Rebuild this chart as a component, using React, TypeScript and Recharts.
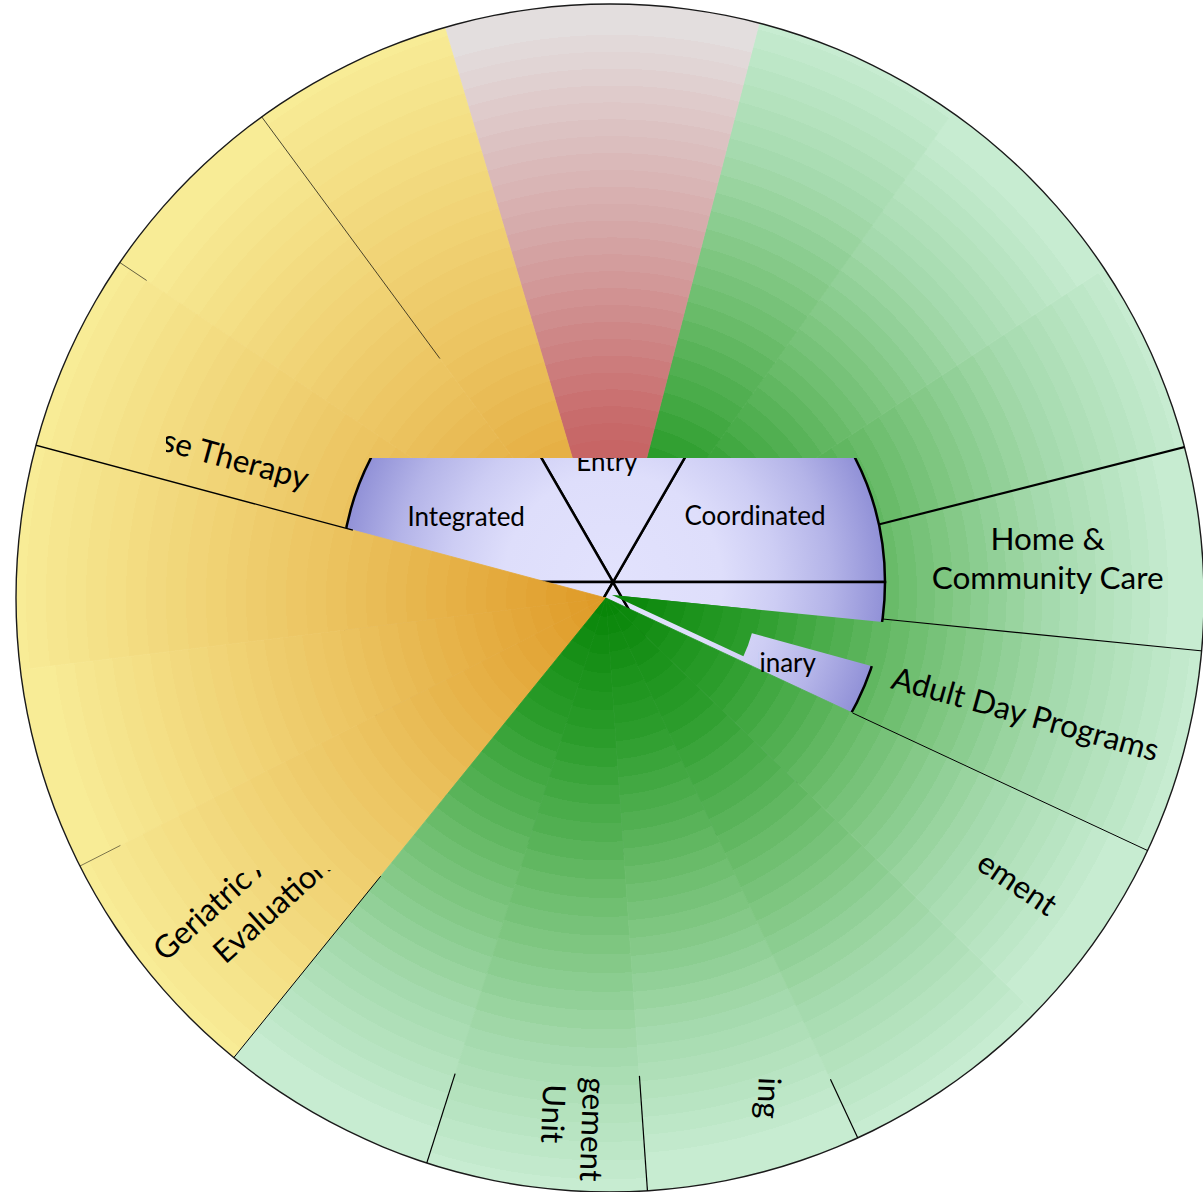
import React from 'react';
import { PieChart, Pie, Cell } from 'recharts';

const W = 1203;
const H = 1192;
const RAD = Math.PI / 180;
const FONT = 'Lato, "Open Sans", sans-serif';

// back ring, drawn under the hub (degrees, counter-clockwise from east, starting at -27)
const backNames = ['Adult Day Programs', 'Home & Community Care', 'Green 1', 'Green 2', 'Green 3', 'Single Entry', 'Yellow 1', 'Yellow 2', 'Exercise Therapy'];
const backSpans = [21.3, 19.9, 19.1, 21.3, 20.9, 31, 19.9, 19.8, 20.2];
const backGroups = ['green', 'green', 'green', 'green', 'green', 'red', 'yellow', 'yellow', 'yellow'];

// front fan, drawn over the hub (starting at 165)
const frontNames = ['Yellow 3', 'Yellow 4', 'Geriatric Evaluation', 'Green 4', 'Management Unit', 'Nursing', 'Green 5', 'Case Management'];
const frontSpans = [22, 20, 24, 21.4, 21.6, 21, 21, 19];
const frontGroups = ['yellow', 'yellow', 'yellow', 'green', 'green', 'green', 'green', 'green'];

// hub
const hubNames = ['Coordinated', 'Entry', 'Integrated', 'Hub 4', 'Hub 5', 'Interdisciplinary'];
const hubSpans = [60, 60, 60, 60, 60, 60];

// parts of the adult day wedge that cross the hub
const bandNames = ['Adult Day Programs'];
const bandSpans = [9.6];
const bandInnerSpans = [19.3];

const build = (names: string[], spans: number[], groups?: string[]) =>
  names.map((name, i) => ({ name, value: spans[i], group: groups ? groups[i] : 'blue' }));
const total = (a: number[]) => a.reduce((s, v) => s + v, 0);

const backData = build(backNames, backSpans, backGroups);
const frontData = build(frontNames, frontSpans, frontGroups);
const hubData = build(hubNames, hubSpans);
const bandData = build(bandNames, bandSpans, ['green']);
const bandInnerData = build(bandNames, bandInnerSpans, ['green']);

const BACK = { cx: 612, cy: 592 };
const FRONT = { cx: 606, cy: 598 };
const HUB = { cx: 613, cy: 582, r: 272 };
const RIM = { cx: 610, cy: 598, r: 594 };

const stops: Record<string, [number, string][]> = {
  yellow: [[0, '#df9a26'], [0.45, '#ebc25e'], [1, '#f8ed98']],
  red: [[0, '#bf4a4a'], [0.3, '#c86a6a'], [0.6, '#d4a2a2'], [1, '#e4e0e0']],
  green: [[0, '#058405'], [0.25, '#2e9e2e'], [0.5, '#6dbd6d'], [0.75, '#a3d9ab'], [1, '#c9edd4']],
  blue: [[0, '#e2e2fd'], [0.4, '#dedefb'], [0.6, '#cdcdf4'], [0.8, '#b4b4e8'], [1, '#9191d7']],
};

const hex = (c: string) => [1, 3, 5].map((i) => parseInt(c.slice(i, i + 2), 16));
const colorAt = (s: [number, string][], t: number) => {
  let k = 0;
  while (k < s.length - 2 && t > s[k + 1][0]) k++;
  const [o0, c0] = s[k];
  const [o1, c1] = s[k + 1];
  const f = Math.min(1, Math.max(0, (t - o0) / (o1 - o0)));
  const a = hex(c0);
  const b = hex(c1);
  return `rgb(${a.map((v, i) => Math.round(v + (b[i] - v) * f)).join(',')})`;
};
// stepped rings like the original artwork
const banded = (s: [number, string][], n: number) => {
  const out: [number, string][] = [];
  for (let i = 0; i < n; i++) {
    const c = colorAt(s, (i + 0.5) / n);
    out.push([i / n, c], [(i + 1) / n, c]);
  }
  return out;
};

type LabelCfg = {
  lines: string[];
  r: number;
  da: number;
  rot: number;
  size: number;
  anchor?: 'start' | 'middle' | 'end';
  mode?: 'center' | 'base';
  lh?: number;
  offs?: [number, number][];
  clip?: string;
};
type Edge = { side: 'start' | 'end'; w: number; r0: number };

const OUT = 31.5;
const HUBF = 26;

const backLabels: Record<string, LabelCfg> = {
  'Home & Community Care': { lines: ['Home &', 'Community Care'], r: 437, da: 0.2, rot: 0, size: OUT, lh: 39 },
  'Adult Day Programs': { lines: ['Adult Day Programs'], r: 431, da: -0.1, rot: 15.5, size: OUT },
  'Exercise Therapy': { lines: ['Exercise Therapy'], r: 323.5, da: 5.3, rot: 15.4, size: OUT, anchor: 'end', mode: 'base', clip: 'therapyClip' },
};
const backEdges: Record<string, Edge[]> = {
  'Adult Day Programs': [{ side: 'end', w: 1.2, r0: 272 }],
  'Home & Community Care': [{ side: 'end', w: 2.2, r0: 276 }],
  'Yellow 1': [{ side: 'end', w: 0.7, r0: 290 }],
  'Yellow 2': [{ side: 'end', w: 0.6, r0: 560 }],
};

const frontLabels: Record<string, LabelCfg> = {
  'Geriatric Evaluation': {
    lines: ['Geriatric Assessment', 'Evaluation Unit'], r: 572, da: 0.6, rot: -42, size: OUT,
    anchor: 'start', mode: 'base', offs: [[0, 0], [43, 42]], clip: 'geriClip',
  },
  'Management Unit': {
    lines: ['gement', 'Unit'], r: 479.6, da: 4.1, rot: 92, size: OUT,
    anchor: 'start', mode: 'base', offs: [[0, 0], [8, 40]],
  },
  Nursing: { lines: ['ing'], r: 502.8, da: 3.2, rot: 92, size: OUT, anchor: 'start', mode: 'base' },
  'Case Management': { lines: ['ement'], r: 457, da: -1.7, rot: 34, size: OUT, anchor: 'start', mode: 'base' },
};
const frontEdges: Record<string, Edge[]> = {
  'Yellow 3': [{ side: 'start', w: 1.3, r0: 262 }],
  'Geriatric Evaluation': [{ side: 'start', w: 0.5, r0: 545 }, { side: 'end', w: 1, r0: 358 }],
  'Green 4': [{ side: 'end', w: 1.2, r0: 499 }],
  'Management Unit': [{ side: 'end', w: 1.2, r0: 479 }],
  Nursing: [{ side: 'end', w: 1.2, r0: 531 }],
  'Case Management': [{ side: 'end', w: 1, r0: 272 }],
};

const hubLabels: Record<string, LabelCfg> = {
  Coordinated: { lines: ['Coordinated'], r: 156.6, da: -5.1, rot: 0, size: HUBF, clip: 'hubClip' },
  Entry: { lines: ['Entry'], r: 120, da: 2.9, rot: 0, size: HUBF, clip: 'hubClip' },
  Integrated: { lines: ['Integrated'], r: 160.7, da: 6, rot: 0, size: HUBF, clip: 'hubClip' },
  Interdisciplinary: { lines: ['Interdisciplinary'], r: 222, da: 6.1, rot: 0, size: HUBF, anchor: 'end', mode: 'base', clip: 'inaryClip' },
};

const makeLabel = (labels: Record<string, LabelCfg>, edges: Record<string, Edge[]>) => (p: any) => {
  const name = p?.payload?.name ?? p.name;
  const lab = labels[name];
  const eds = edges[name] || [];
  const pt = (r: number, a: number) => [p.cx + r * Math.cos(-a * RAD), p.cy + r * Math.sin(-a * RAD)];
  let text = null;
  if (lab) {
    const [x, y] = pt(lab.r, p.midAngle + lab.da);
    const n = lab.lines.length;
    const lh = lab.lh ?? 38;
    text = (
      <g clipPath={lab.clip ? `url(#${lab.clip})` : undefined}>
        <text
          transform={`translate(${x},${y}) rotate(${lab.rot})`}
          fontSize={lab.size}
          fontFamily={FONT}
          textAnchor={lab.anchor ?? 'middle'}
          fill="#000"
        >
          {lab.lines.map((t, i) => (
            <tspan
              key={i}
              x={lab.offs ? lab.offs[i][0] : 0}
              y={lab.mode === 'base' ? (lab.offs ? lab.offs[i][1] : i * lh) : (i - (n - 1) / 2) * lh + lab.size * 0.35}
            >
              {t}
            </tspan>
          ))}
        </text>
      </g>
    );
  }
  return (
    <g>
      <g clipPath="url(#rimClip)">
        {eds.map((e, i) => {
          const a = e.side === 'start' ? p.startAngle : p.endAngle;
          const [x1, y1] = pt(e.r0, a);
          const [x2, y2] = pt(p.outerRadius, a);
          return <line key={i} x1={x1} y1={y1} x2={x2} y2={y2} stroke="#000" strokeWidth={e.w} />;
        })}
      </g>
      {text}
    </g>
  );
};

const grad = (id: string, key: string, cx: number, cy: number, r: number, n: number) => (
  <radialGradient key={id} id={id} gradientUnits="userSpaceOnUse" cx={cx} cy={cy} r={r}>
    {(n > 0 ? banded(stops[key], n) : stops[key]).map(([o, c], i) => (
      <stop key={i} offset={o} stopColor={c} />
    ))}
  </radialGradient>
);

// two slightly different ring scales so neighbouring wedges read as separate pieces
const VARIANT_R = [600, 574];
const BANDS: Record<string, number> = { yellow: 30, red: 34, green: 32 };

export default function App() {
  const variants = (suffix: string, c: { cx: number; cy: number }) =>
    ['yellow', 'red', 'green'].flatMap((g) =>
      VARIANT_R.map((r, v) => grad(`${g}${suffix}${v}`, g, c.cx, c.cy, r, BANDS[g])),
    );
  return (
    <div style={{ position: 'absolute', left: 0, top: 0, width: W, height: H, background: '#fff' }}>
      <PieChart width={W} height={H} margin={{ top: 0, right: 0, bottom: 0, left: 0 }}>
        <defs>
          {variants('B', BACK)}
          {variants('F', FRONT)}
          {grad('blueH', 'blue', HUB.cx, HUB.cy, HUB.r, 0)}
          <clipPath id="rimClip">
            <circle cx={RIM.cx} cy={RIM.cy} r={RIM.r} />
          </clipPath>
          <clipPath id="hubClip">
            <rect x={0} y={458} width={W} height={H} />
          </clipPath>
          <clipPath id="therapyClip">
            <rect x={166} y={0} width={W} height={H} />
          </clipPath>
          <clipPath id="geriClip">
            <rect x={0} y={870} width={W} height={H} />
          </clipPath>
          <clipPath id="inaryClip">
            <rect x={758} y={458} width={W} height={H} />
          </clipPath>
        </defs>

        <Pie
          data={backData}
          dataKey="value"
          nameKey="name"
          cx={BACK.cx}
          cy={BACK.cy}
          innerRadius={0}
          outerRadius={640}
          startAngle={-27}
          endAngle={-27 + total(backSpans)}
          stroke="none"
          labelLine={false}
          label={makeLabel(backLabels, backEdges)}
          isAnimationActive={false}
        >
          {backData.map((d, i) => (
            <Cell
              key={i}
              fill={`url(#${d.group}B${i % 2})`}
              stroke={`url(#${d.group}B${i % 2})`}
              strokeWidth={0.8}
              clipPath="url(#rimClip)"
            />
          ))}
        </Pie>

        <Pie
          data={hubData}
          dataKey="value"
          nameKey="name"
          cx={HUB.cx}
          cy={HUB.cy}
          innerRadius={0}
          outerRadius={HUB.r}
          startAngle={0}
          endAngle={360}
          labelLine={false}
          label={makeLabel(hubLabels, {})}
          isAnimationActive={false}
        >
          {hubData.map((d, i) => (
            <Cell key={i} fill="url(#blueH)" stroke="#000" strokeWidth={2.5} clipPath="url(#hubClip)" />
          ))}
        </Pie>

        <Pie
          data={bandData}
          dataKey="value"
          nameKey="name"
          cx={BACK.cx}
          cy={BACK.cy + 3}
          innerRadius={0}
          outerRadius={282}
          startAngle={-5.7}
          endAngle={-5.7 - total(bandSpans)}
          stroke="none"
          labelLine={false}
          isAnimationActive={false}
        >
          {bandData.map((d, i) => (
            <Cell key={i} fill="url(#greenB0)" stroke="none" />
          ))}
        </Pie>

        <Pie
          data={bandInnerData}
          dataKey="value"
          nameKey="name"
          cx={BACK.cx}
          cy={BACK.cy + 3}
          innerRadius={0}
          outerRadius={145}
          startAngle={-5.7}
          endAngle={-5.7 - total(bandInnerSpans)}
          stroke="none"
          labelLine={false}
          isAnimationActive={false}
        >
          {bandInnerData.map((d, i) => (
            <Cell key={i} fill="url(#greenB0)" stroke="none" />
          ))}
        </Pie>

        <Pie
          data={frontData}
          dataKey="value"
          nameKey="name"
          cx={FRONT.cx}
          cy={FRONT.cy}
          innerRadius={0}
          outerRadius={640}
          startAngle={165}
          endAngle={165 + total(frontSpans)}
          stroke="none"
          labelLine={false}
          label={makeLabel(frontLabels, frontEdges)}
          isAnimationActive={false}
        >
          {frontData.map((d, i) => (
            <Cell
              key={i}
              fill={`url(#${d.group}F${i % 2})`}
              stroke={`url(#${d.group}F${i % 2})`}
              strokeWidth={0.8}
              clipPath="url(#rimClip)"
            />
          ))}
        </Pie>

        <Pie
          data={[{ name: 'rim', value: 1 }]}
          dataKey="value"
          cx={RIM.cx}
          cy={RIM.cy}
          innerRadius={RIM.r - 0.7}
          outerRadius={RIM.r + 0.7}
          startAngle={0}
          endAngle={360}
          stroke="none"
          fill="#1a1a1a"
          labelLine={false}
          isAnimationActive={false}
        />
      </PieChart>
    </div>
  );
}
